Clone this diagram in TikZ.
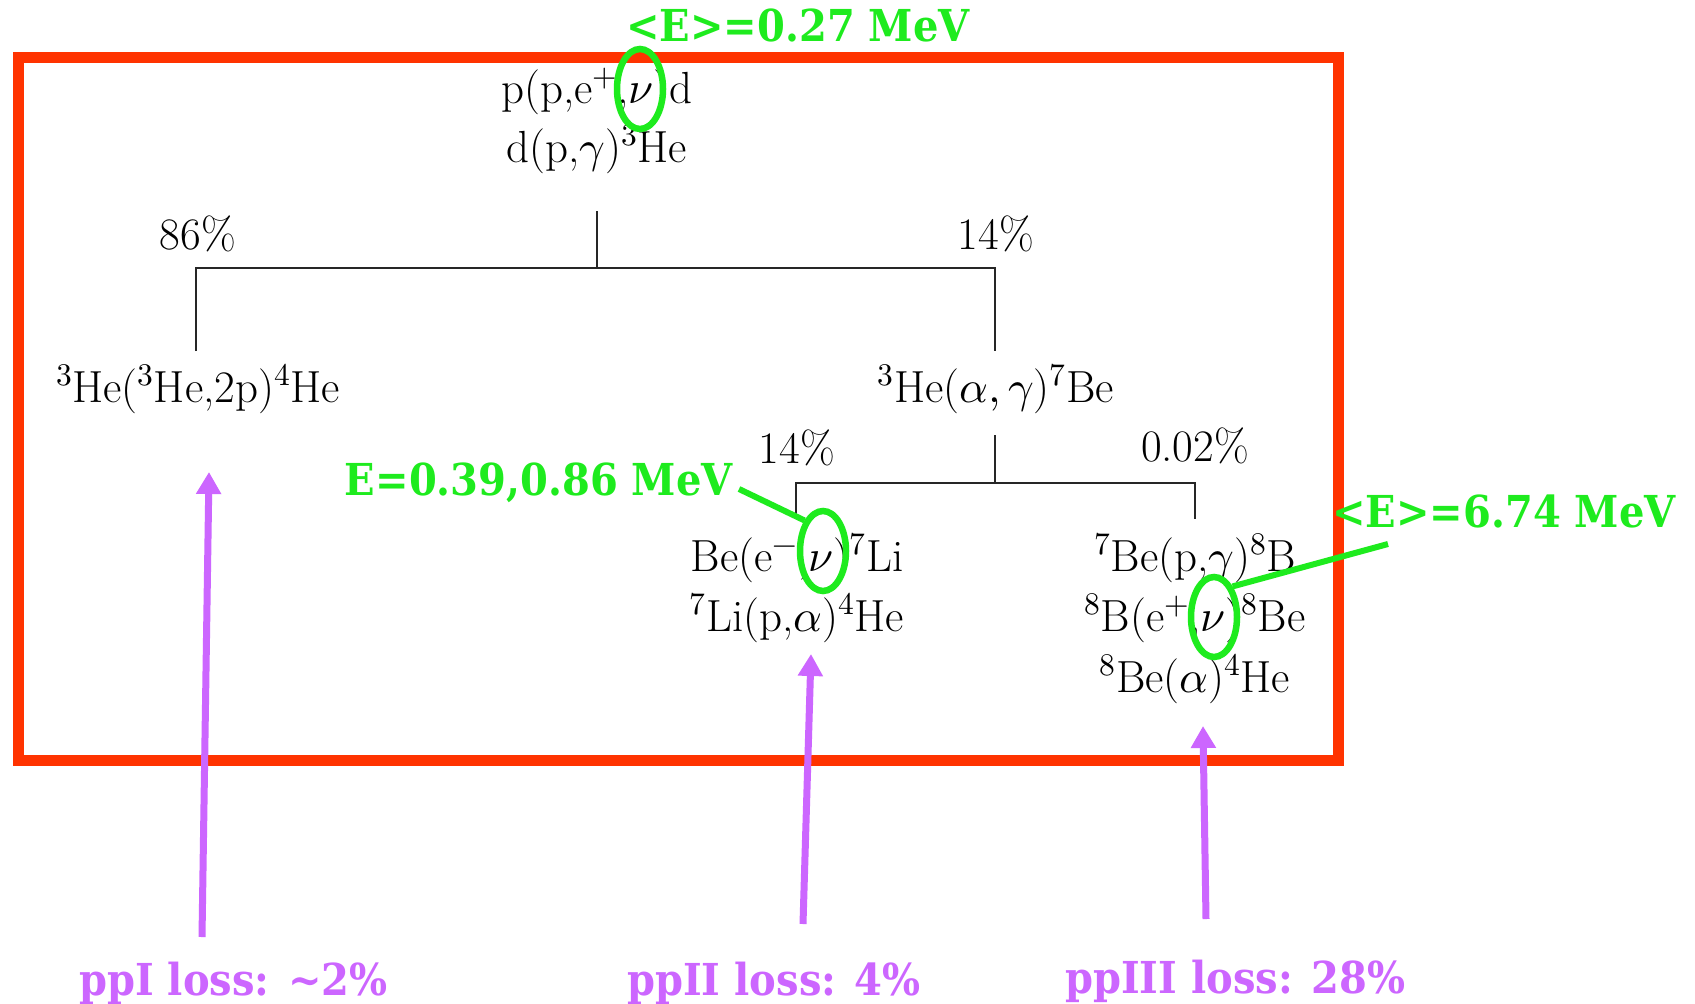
\documentclass[tikz,border=0pt]{standalone}
\usepackage{fontspec}
\usepackage{unicode-math}
\setmathfont{Latin Modern Math}
\newfontfamily\labelfont[FakeStretch=0.91]{DejaVu Serif}
\usetikzlibrary{arrows.meta,shapes.geometric}
\definecolor{boxred}{RGB}{255,51,0}
\definecolor{nugreen}{RGB}{30,235,30}
\definecolor{losspurple}{RGB}{204,102,255}
\tikzset{
  rxn/.style={font=\fontsize{45}{54}\selectfont, inner sep=0pt, anchor=base},
  tree/.style={line width=1.5pt, black!85},
  glabel/.style={font=\labelfont\bfseries\fontsize{44}{52}\selectfont, text=nugreen, inner sep=0pt, anchor=base},
  plabel/.style={font=\labelfont\bfseries\fontsize{44}{52}\selectfont, text=losspurple, inner sep=0pt, anchor=base},
  nuring/.style={draw=nugreen, line width=6.5pt, ellipse, minimum width=46pt, minimum height=80pt, inner sep=0pt},
  gline/.style={draw=nugreen, line width=6pt},
  lossarrow/.style={draw=losspurple, line width=7pt, -{Triangle[length=22pt,width=24pt]}},
}
\begin{document}
\begin{tikzpicture}[x=1pt,y=-1pt]
\useasboundingbox (0,0) rectangle (1695,1004);
\fill[white] (0,0) rectangle (1695,1004);
% red frame
\draw[boxred, line width=11pt] (18,57) rectangle (1338,760);

% reactions
\node[rxn] (r1a) at (597,103) {p(p,e$^+$,$\nu$)d};
\node[rxn] (r1b) at (597,162) {d(p,$\gamma$)$^3$He};
\node[rxn] (p86) at (198,249) {86\%};
\node[rxn] (p14a) at (996,249) {14\%};
\node[rxn] (ppI) at (198,402) {$^3$He($^3$He,2p)$^4$He};
\node[rxn] (he3) at (996,402) {$^3$He($\alpha,\gamma$)$^7$Be};
\node[rxn] (p14b) at (797,463) {14\%};
\node[rxn] (p002) at (1195,461) {0.02\%};
\node[rxn] (ii1) at (797,571) {Be(e$^-$,$\nu$)$^7$Li};
\node[rxn] (ii2) at (797,631) {$^7$Li(p,$\alpha$)$^4$He};
\node[rxn] (iii1) at (1195,571) {$^7$Be(p,$\gamma$)$^8$B};
\node[rxn] (iii2) at (1195,631) {$^8$B(e$^+$,$\nu$)$^8$Be};
\node[rxn] (iii3) at (1195,692) {$^8$Be($\alpha$)$^4$He};

% tree lines
\coordinate (t0) at (597,211);
\coordinate (t1) at (597,268);
\coordinate (tl) at (196,268);
\coordinate (tr) at (995,268);
\coordinate (tlb) at (196,351);
\coordinate (trb) at (995,351);
\draw[tree] (t0) -- (t1);
\draw[tree] (tlb) -- (tl) -- (tr) -- (trb);
\coordinate (u0) at (995,435);
\coordinate (u1) at (995,483);
\coordinate (ul) at (796,483);
\coordinate (ur) at (1195,483);
\coordinate (ulb) at (796,519);
\coordinate (urb) at (1195,519);
\draw[tree] (u0) -- (u1);
\draw[tree] (ulb) -- (ul) -- (ur) -- (urb);

% green neutrino rings and labels
\node[nuring] (nu1) at (640,89) {};
\node[nuring] (nu2) at (823,551) {};
\node[nuring] (nu3) at (1214,617) {};
\node[glabel] (e1) at (798,41) {<E>=0.27 MeV};
\node[glabel, anchor=base east] (e2) at (733,495) {E=0.39,0.86 MeV};
\node[glabel, anchor=base west] (e3) at (1332,527) {<E>=6.74 MeV};
\coordinate (e2end) at (739,489);
\coordinate (e3end) at (1388,544);
\draw[gline] (e2end) -- (nu2.north west);
\draw[gline] (e3end) -- (nu3.north east);

% purple loss arrows
\node[plabel, anchor=base west] (l1) at (79,995) {ppI loss: \textasciitilde2\%};
\node[plabel, anchor=base west] (l2) at (627,995) {ppII loss: 4\%};
\node[plabel, anchor=base west] (l3) at (1065,993) {ppIII loss: 28\%};
\coordinate (a1s) at (202,937);
\coordinate (a1e) at (209,472);
\coordinate (a2s) at (803,924);
\coordinate (a2e) at (811,654);
\coordinate (a3s) at (1206,919);
\coordinate (a3e) at (1203,726);
\draw[lossarrow] (a1s) -- (a1e);
\draw[lossarrow] (a2s) -- (a2e);
\draw[lossarrow] (a3s) -- (a3e);
\end{tikzpicture}
\end{document}
